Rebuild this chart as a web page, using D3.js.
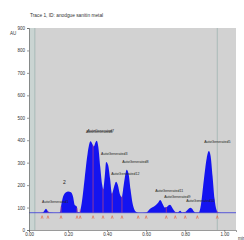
<html>
<head>
<meta charset="utf-8">
<script src="https://d3js.org/d3.v7.min.js"></script>
<style>
  body { margin: 0; padding: 0; background: #fff; }
  text { font-family: "Liberation Sans", Arial, sans-serif; }
</style>
</head>
<body>
<div id="chart"></div>
<script>
    // trace: time (min) and signal (AU)
    const traceTime = [0.00, 0.05, 0.07, 0.08, 0.087, 0.095, 0.105, 0.15, 0.158, 0.165, 0.175, 0.19, 0.20, 0.215, 0.225, 0.235, 0.24, 0.245, 0.25, 0.258,
        0.27, 0.285, 0.30, 0.315, 0.325, 0.332, 0.34, 0.347, 0.355, 0.365, 0.375, 0.38, 0.388, 0.395, 0.405, 0.415, 0.425, 0.435, 0.446, 0.455,
        0.465, 0.475, 0.485, 0.495, 0.50, 0.51, 0.52, 0.53, 0.54, 0.55, 0.56, 0.60, 0.62, 0.64, 0.66, 0.672, 0.685, 0.695, 0.705, 0.715,
        0.722, 0.73, 0.74, 0.75, 0.76, 0.774, 0.785, 0.80, 0.815, 0.826, 0.835, 0.845, 0.85, 0.87, 0.88, 0.895, 0.91, 0.921, 0.93, 0.94,
        0.95, 0.96, 0.97, 1.00, 1.06];
    const traceAU = [77, 77, 78, 88, 95, 86, 78, 77, 78, 110, 150, 168, 172, 168, 150, 110, 108, 104, 80, 78,
        120, 230, 340, 395, 382, 372, 390, 398, 370, 280, 200, 182, 240, 303, 290, 230, 162, 190, 215, 200,
        160, 146, 200, 255, 268, 250, 180, 120, 90, 80, 77, 78, 95, 105, 120, 134, 115, 100, 102, 110,
        112, 105, 90, 80, 78, 86, 78, 80, 92, 99, 95, 82, 78, 78, 110, 220, 320, 352, 330, 240,
        140, 90, 78, 77, 77];

    const baselineAU = 77;

    // peak boundary markers (min)
    const markerTime = [0.067, 0.097, 0.164, 0.246, 0.262, 0.328, 0.379, 0.426, 0.476, 0.559, 0.600, 0.703, 0.749, 0.800, 0.862, 0.964];

    // peak names and where they sit (min, AU)
    const peakNames = ["AutoGenerated1", "2", "AutoGenerated6", "AutoGenerated7", "AutoGenerated3", "AutoGenerated12", "AutoGenerated8",
        "AutoGenerated11", "AutoGenerated9", "AutoGenerated10", "AutoGenerated5"];
    const peakTime = [0.067, 0.174, 0.292, 0.300, 0.369, 0.421, 0.477, 0.646, 0.692, 0.805, 0.897];
    const peakAU = [120, 205, 433, 437, 335, 246, 299, 170, 143, 125, 388];

    const yTicks = [0, 100, 200, 300, 400, 500, 600, 700, 800, 900];
    const xTicks = [0.00, 0.20, 0.40, 0.60, 0.80, 1.00];

    const width = 244, height = 240;
    const svg = d3.select("#chart").append("svg")
        .attr("width", width).attr("height", height);

    const x = d3.scaleLinear().domain([0, 1.06]).range([29, 236]);
    const y = d3.scaleLinear().domain([0, 900]).range([230, 28]);

    // plot background
    svg.append("rect")
        .attr("x", x(0)).attr("y", y(900))
        .attr("width", x(1.06) - x(0)).attr("height", y(0) - y(900))
        .attr("fill", "#d2d2d2");
    svg.append("rect")
        .attr("x", x(0)).attr("y", y(900))
        .attr("width", x(0.03) - x(0)).attr("height", y(0) - y(900))
        .attr("fill", "#cad4d2");

    // start / end lines
    [0.03, 0.964].forEach(t => {
        svg.append("line")
            .attr("x1", x(t)).attr("x2", x(t))
            .attr("y1", y(900)).attr("y2", y(0))
            .attr("stroke", "#a9bab8").attr("stroke-width", 1);
    });

    const trace = traceTime.map((t, i) => ({ t: t, v: traceAU[i] }));

    const area = d3.area()
        .x(d => x(d.t))
        .y0(y(baselineAU))
        .y1(d => y(d.v))
        .curve(d3.curveMonotoneX);

    svg.append("path")
        .datum(trace)
        .attr("d", area)
        .attr("fill", "#1414f0");

    // baseline
    svg.append("line")
        .attr("x1", x(0)).attr("x2", x(1.06))
        .attr("y1", y(baselineAU)).attr("y2", y(baselineAU))
        .attr("stroke", "#3a3ad8").attr("stroke-width", 0.8);

    // boundary markers
    const interp = t => {
        const i = d3.bisector(d => d.t).left(trace, t);
        if (i <= 0) return trace[0].v;
        const a = trace[i - 1], b = trace[i];
        return a.v + (b.v - a.v) * (t - a.t) / (b.t - a.t);
    };
    markerTime.forEach(t => {
        svg.append("line")
            .attr("x1", x(t)).attr("x2", x(t))
            .attr("y1", y(baselineAU)).attr("y2", y(interp(t)))
            .attr("stroke", "#e0506a").attr("stroke-width", 0.6);
        svg.append("path")
            .attr("d", `M${x(t) - 1},${y(baselineAU) + 6}L${x(t)},${y(baselineAU) + 3}L${x(t) + 1},${y(baselineAU) + 6}`)
            .attr("fill", "none")
            .attr("stroke", "#e8603a").attr("stroke-width", 0.6);
    });

    // peak labels
    svg.selectAll("text.peak")
        .data(peakNames)
        .enter()
        .append("text")
        .attr("class", "peak")
        .attr("x", (d, i) => x(peakTime[i]))
        .attr("y", (d, i) => y(peakAU[i]))
        .attr("font-size", d => d === "2" ? 5 : 3.6)
        .attr("fill", "#222")
        .text(d => d);

    // axes
    const yAxis = d3.axisLeft(y).tickValues(yTicks).tickSize(2).tickPadding(2).tickFormat(d3.format("d"));
    const gy = svg.append("g").attr("transform", `translate(${x(0)},0)`).call(yAxis);
    const xAxis = d3.axisBottom(x).tickValues(xTicks).tickSize(2).tickPadding(1).tickFormat(d3.format(".2f"));
    const gx = svg.append("g").attr("transform", `translate(0,${y(0)})`).call(xAxis);
    [gx, gy].forEach(g => {
        g.selectAll("text").attr("font-size", 4.5).attr("fill", "#333")
            .style("font-family", "Liberation Sans, Arial, sans-serif");
        g.selectAll("line").attr("stroke", "#555").attr("stroke-width", 0.6);
        g.select(".domain").attr("stroke", "#555").attr("stroke-width", 0.6);
    });

    svg.append("text")
        .attr("x", 10).attr("y", 35)
        .attr("font-size", 4.5).attr("fill", "#333")
        .text("AU");

    svg.append("text")
        .attr("x", 238).attr("y", 240)
        .attr("font-size", 4.5).attr("fill", "#333")
        .text("min");

    svg.append("text")
        .attr("x", 30).attr("y", 17)
        .attr("font-size", 4.8).attr("fill", "#333")
        .text("Trace 1, ID: anodgue sanitin metal");
</script>
</body>
</html>
